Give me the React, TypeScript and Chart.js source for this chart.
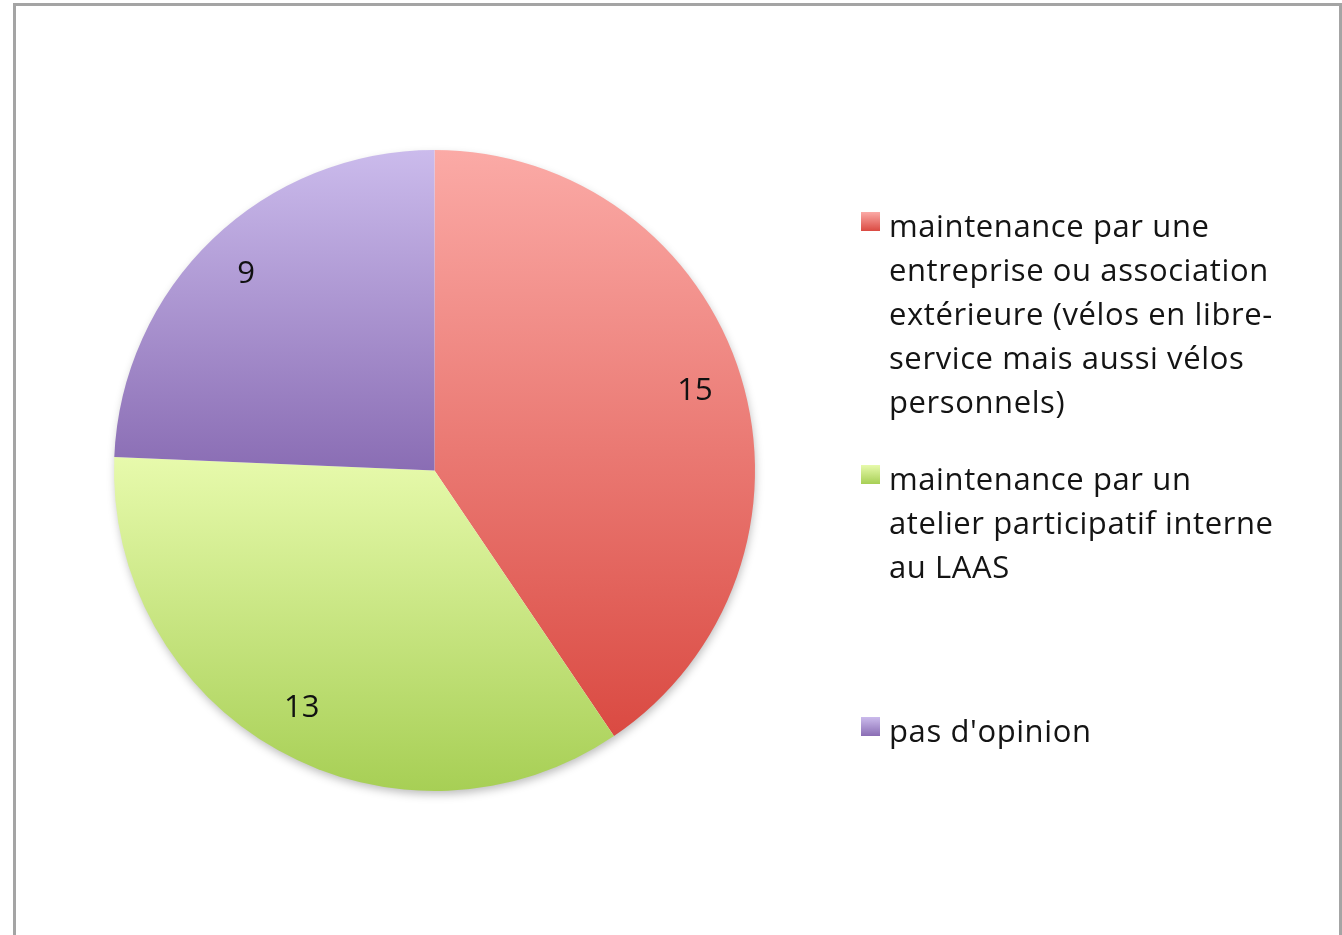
import React, { useEffect, useRef } from "react";
import { Chart, registerables } from "chart.js";

Chart.register(...registerables);

const categories = [
  "maintenance par une entreprise ou association extérieure (vélos en libre-service mais aussi vélos personnels)",
  "maintenance par un atelier participatif interne au LAAS",
  "pas d'opinion",
];
const legendLines = [
  ["maintenance par une", "entreprise ou association", "extérieure (vélos en libre-", "service mais aussi vélos", "personnels)"],
  ["maintenance par un", "atelier participatif interne", "au LAAS"],
  ["pas d'opinion"],
];
const values = [15, 13, 9];
const topColors = ["#fbaaa6", "#e7faac", "#cbbbec"];
const bottomColors = ["#da4a42", "#a7cf55", "#8a6db4"];
const flatColors = ["#ec7770", "#c8e584", "#a990d3"];

const FONT = "'Open Sans', Lato, sans-serif";

const gradientPlugin = {
  id: "sliceGradients",
  beforeDatasetsDraw(chart: any) {
    const ctx = chart.ctx;
    const meta = chart.getDatasetMeta(0);
    meta.data.forEach((arc: any, i: number) => {
      const { x, y, startAngle, endAngle, outerRadius } = arc.getProps(
        ["x", "y", "startAngle", "endAngle", "outerRadius"],
        true
      );
      const ys = [y, y + outerRadius * Math.sin(startAngle), y + outerRadius * Math.sin(endAngle)];
      [-Math.PI / 2, Math.PI / 2, (3 * Math.PI) / 2, (5 * Math.PI) / 2].forEach((a) => {
        if (a >= startAngle - 1e-6 && a <= endAngle + 1e-6) ys.push(y + outerRadius * Math.sin(a));
      });
      const minY = Math.min(...ys);
      const maxY = Math.max(...ys);
      const g = ctx.createLinearGradient(0, minY, 0, maxY);
      g.addColorStop(0, topColors[i]);
      g.addColorStop(1, bottomColors[i]);
      arc.options = Object.assign({}, arc.options, { backgroundColor: g });
    });
    // soft shadow beneath the pie
    const first = meta.data[0];
    if (first) {
      const { x, y, outerRadius } = first.getProps(["x", "y", "outerRadius"], true);
      ctx.save();
      ctx.shadowColor = "rgba(0,0,0,0.28)";
      ctx.shadowBlur = 10;
      ctx.shadowOffsetX = 1;
      ctx.shadowOffsetY = 4;
      ctx.fillStyle = "#ffffff";
      ctx.beginPath();
      ctx.arc(x, y, outerRadius - 1, 0, Math.PI * 2);
      ctx.fill();
      ctx.restore();
    }
  },
};

const valueLabelPlugin = {
  id: "valueLabels",
  afterDatasetsDraw(chart: any) {
    const ctx = chart.ctx;
    const meta = chart.getDatasetMeta(0);
    const data = chart.data.datasets[0].data;
    ctx.save();
    ctx.font = `31px ${FONT}`;
    ctx.fillStyle = "#111111";
    ctx.textAlign = "center";
    ctx.textBaseline = "middle";
    meta.data.forEach((arc: any, i: number) => {
      const { x, y, startAngle, endAngle, outerRadius } = arc.getProps(
        ["x", "y", "startAngle", "endAngle", "outerRadius"],
        true
      );
      const mid = (startAngle + endAngle) / 2;
      const r = outerRadius * 0.85;
      ctx.fillText(String(data[i]), x + r * Math.cos(mid), y + r * Math.sin(mid));
    });
    ctx.restore();
  },
};

export default function App() {
  const canvasRef = useRef<HTMLCanvasElement | null>(null);

  useEffect(() => {
    const canvas = canvasRef.current;
    if (!canvas) return;
    const chart = new Chart(canvas, {
      type: "pie",
      data: {
        labels: categories,
        datasets: [
          {
            data: values,
            backgroundColor: flatColors,
            borderWidth: 0,
          },
        ],
      },
      options: {
        animation: false,
        responsive: false,
        maintainAspectRatio: false,
        layout: { padding: { left: 114, top: 150, right: 587, bottom: 144 } },
        plugins: {
          legend: { display: false },
          tooltip: { enabled: false },
        },
      },
      plugins: [gradientPlugin, valueLabelPlugin],
    });
    return () => chart.destroy();
  }, []);

  return (
    <div
      style={{
        position: "fixed",
        left: 0,
        top: 0,
        width: 1342,
        height: 935,
        overflow: "hidden",
        background: "#ffffff",
      }}
    >
      <div
        style={{
          position: "absolute",
          left: 13,
          top: 3,
          width: 1323,
          height: 1100,
          border: "3px solid #a4a4a4",
          boxSizing: "content-box",
        }}
      />
      <canvas
        ref={canvasRef}
        width={1342}
        height={935}
        style={{ position: "absolute", left: 0, top: 0, width: 1342, height: 935 }}
      />
      <div
        style={{
          position: "absolute",
          left: 861,
          top: 0,
          fontFamily: FONT,
          fontSize: 31,
          letterSpacing: "0.6px",
          color: "#141414",
        }}
      >
        {legendLines.map((lines, i) => {
          const tops = [203, 456, 708];
          return (
            <div key={i} style={{ position: "absolute", left: 0, top: tops[i], whiteSpace: "nowrap" }}>
              <div
                style={{
                  position: "absolute",
                  left: 0,
                  top: 9,
                  width: 19,
                  height: 19,
                  background: `linear-gradient(${topColors[i]}, ${bottomColors[i]})`,
                }}
              />
              <div style={{ marginLeft: 28, lineHeight: "44px" }}>
                {lines.map((l, j) => (
                  <div key={j}>{l}</div>
                ))}
              </div>
            </div>
          );
        })}
      </div>
    </div>
  );
}
